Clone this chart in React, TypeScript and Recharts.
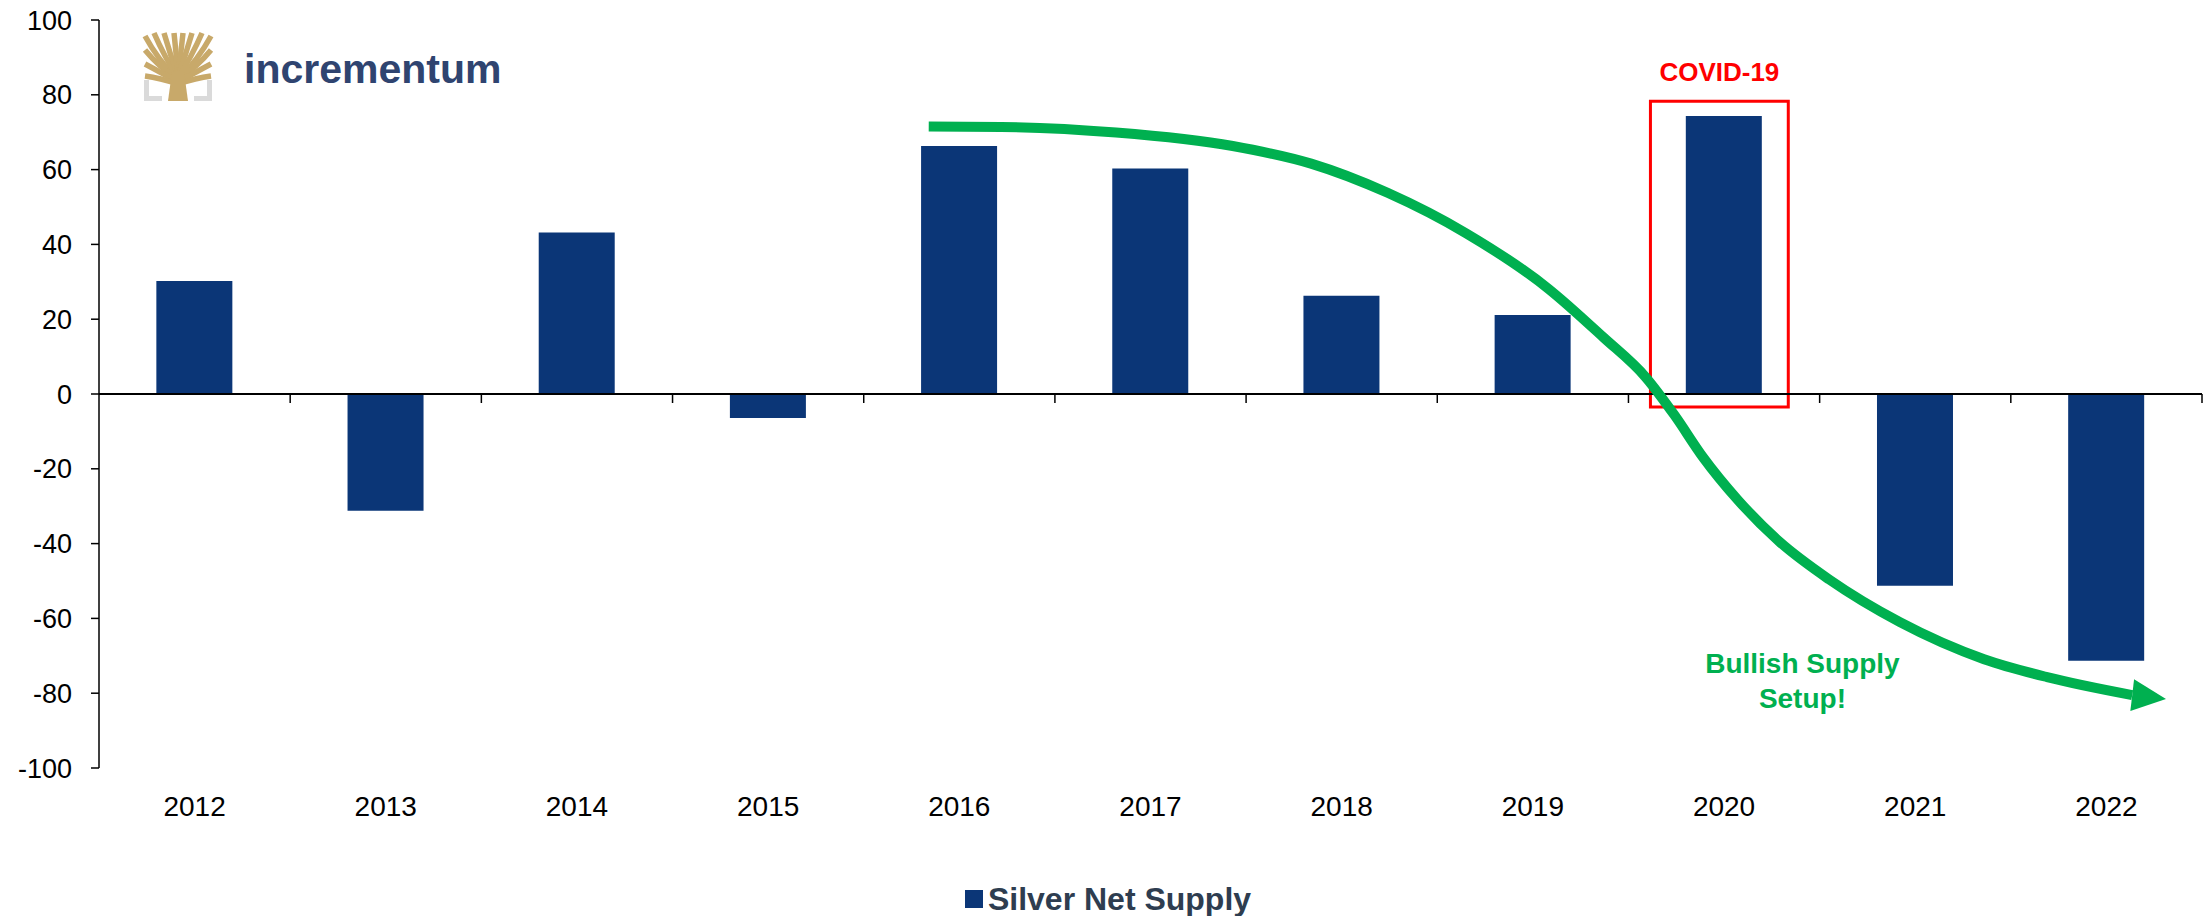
import {
  ComposedChart,
  Bar,
  Line,
  XAxis,
  YAxis,
  Legend,
  ReferenceLine,
  ReferenceArea,
  ReferenceDot,
} from "recharts";

const years = ["2012", "2013", "2014", "2015", "2016", "2017", "2018", "2019", "2020", "2021", "2022"];
const netSupply = [30.2, -31.2, 43.2, -6.4, 66.3, 60.3, 26.3, 21.1, 74.3, -51.3, -71.3];
const yTicks = [100, 80, 60, 40, 20, 0, -20, -40, -60, -80, -100];

// hand-drawn trend arrow, in band units (0..11) and values
const trendX = [4.34, 4.72, 5.32, 5.93, 6.34, 6.74, 7.15, 7.58, 7.87, 8.09, 8.24, 8.39, 8.57, 8.79, 9.05, 9.42, 9.86, 10.19, 10.635];
const trendV = [71.5, 71.4, 69.9, 66.3, 61.6, 53.8, 43.0, 28.2, 15.1, 4.5, -5.6, -16.9, -28.2, -39.5, -49.6, -61.0, -70.9, -75.7, -80.5];

const BAR = "#0B3677";
const GREEN = "#00B050";
const RED = "#FF0000";
const FONT = '"Liberation Sans", Arial, sans-serif';

const data = years.map((year, i) => ({ year, supply: netSupply[i] }));
const trend = trendX.map((x, i) => ({ x, v: trendV[i] }));
const boundaries = years.map((_, i) => i + 1);

function renderArrow(p: any) {
  if (p.index !== trend.length - 1) return <g key={`d${p.index}`} />;
  const a = (6.7 * Math.PI) / 180;
  const dx = Math.cos(a), dy = Math.sin(a);
  const nx = -dy, ny = dx;
  const { cx, cy } = p;
  const pts = [
    [cx + 34 * dx, cy + 34 * dy],
    [cx + 16 * nx, cy + 16 * ny],
    [cx - 16 * nx, cy - 16 * ny],
  ]
    .map((q) => q.join(","))
    .join(" ");
  return <polygon key="arrow" points={pts} fill={GREEN} />;
}

function renderBullish(props: any) {
  const { x, y } = props.viewBox;
  return (
    <text x={x} y={y} textAnchor="middle" fill={GREEN} fontSize={28} fontWeight={700} fontFamily={FONT}>
      <tspan x={x}>Bullish Supply</tspan>
      <tspan x={x} dy={35}>Setup!</tspan>
    </text>
  );
}

function LegendContent() {
  return (
    <div
      style={{
        height: 40,
        paddingTop: 6,
        paddingLeft: 14,
        boxSizing: "border-box",
        display: "flex",
        justifyContent: "center",
        alignItems: "center",
        fontFamily: FONT,
      }}
    >
      <span style={{ width: 18, height: 18, background: BAR, marginRight: 5, display: "inline-block" }} />
      <span style={{ fontSize: 32, fontWeight: 700, color: "#2E3D50" }}>Silver Net Supply</span>
    </div>
  );
}

function Logo() {
  const gold = "#C8A96A";
  const branches = [
    "M178 80 Q158 60 145 36",
    "M178 80 Q158 66 145 50",
    "M178 82 Q160 72 145 64",
    "M178 84 Q160 78 145 76",
    "M178 78 Q164 56 154 33",
    "M178 76 Q170 54 164 33",
    "M178 76 Q176 52 174 33",
    "M178 76 Q181 52 183 33",
    "M178 76 Q186 54 192 33",
    "M178 78 Q192 56 202 33",
    "M178 80 Q198 60 211 36",
    "M178 80 Q198 66 211 50",
    "M178 82 Q196 72 211 64",
    "M178 84 Q196 78 211 76",
  ];
  return (
    <svg width={560} height={130} style={{ position: "absolute", left: 0, top: 0, pointerEvents: "none" }}>
      <path d="M144 80 V101 H162 V96 H149 V80 Z" fill="#DADADA" />
      <path d="M212 80 V101 H194 V96 H207 V80 Z" fill="#DADADA" />
      {branches.map((d, i) => (
        <path key={i} d={d} stroke={gold} strokeWidth={5.5} fill="none" />
      ))}
      <path d="M168 101 L188 101 L184 72 L172 72 Z" fill={gold} />
      <text x={244} y={83} fontSize={41} fontWeight={700} fill="#2F4470" fontFamily={FONT}>
        incrementum
      </text>
    </svg>
  );
}

export default function App() {
  return (
    <div style={{ position: "relative", width: 2206, height: 916, fontFamily: FONT, background: "#fff" }}>
      <style>{`body { margin: 0; }`}</style>
      <ComposedChart
        width={2206}
        height={916}
        data={data}
        margin={{ top: 20, right: 4, bottom: 0, left: 0 }}
        barCategoryGap="30%"
      >
        <XAxis
          xAxisId="cat"
          dataKey="year"
          interval={0}
          axisLine={false}
          tickLine={false}
          tickSize={0}
          tickMargin={28}
          height={108}
          tick={{ fill: "#000", fontSize: 28, fontFamily: FONT }}
        />
        <XAxis xAxisId="num" type="number" dataKey="x" domain={[0, 11]} hide allowDataOverflow />
        <YAxis
          domain={[-100, 100]}
          ticks={yTicks}
          interval={0}
          width={99}
          tickSize={8}
          tickMargin={19}
          axisLine={{ stroke: "#000", strokeWidth: 1.5 }}
          tickLine={{ stroke: "#000", strokeWidth: 1.5 }}
          tick={{ fill: "#000", fontSize: 27, fontFamily: FONT }}
          allowDataOverflow
        />
        <Legend verticalAlign="bottom" height={40} content={<LegendContent />} />
        <Bar xAxisId="cat" dataKey="supply" name="Silver Net Supply" fill={BAR} isAnimationActive={false} />
        <ReferenceLine xAxisId="num" y={0} stroke="#000" strokeWidth={2} />
        {boundaries.map((b) => (
          <ReferenceLine
            key={b}
            xAxisId="num"
            segment={[
              { x: b, y: 0 },
              { x: b, y: -2.4 },
            ]}
            stroke="#000"
            strokeWidth={1.5}
          />
        ))}
        <ReferenceArea
          xAxisId="num"
          x1={8.115}
          x2={8.836}
          y1={-3.5}
          y2={78.3}
          fill="none"
          fillOpacity={0}
          stroke={RED}
          strokeWidth={3}
          label={{ value: "COVID-19", position: "top", offset: 20, fill: RED, fontSize: 26, fontWeight: 700, fontFamily: FONT }}
        />
        <Line
          xAxisId="num"
          data={trend}
          dataKey="v"
          type="monotone"
          stroke={GREEN}
          strokeWidth={10}
          strokeLinecap="butt"
          dot={renderArrow}
          activeDot={false}
          legendType="none"
          isAnimationActive={false}
        />
        <ReferenceDot xAxisId="num" x={8.91} y={-74.6} r={0} fill="none" stroke="none" label={renderBullish} />
      </ComposedChart>
      <Logo />
    </div>
  );
}
